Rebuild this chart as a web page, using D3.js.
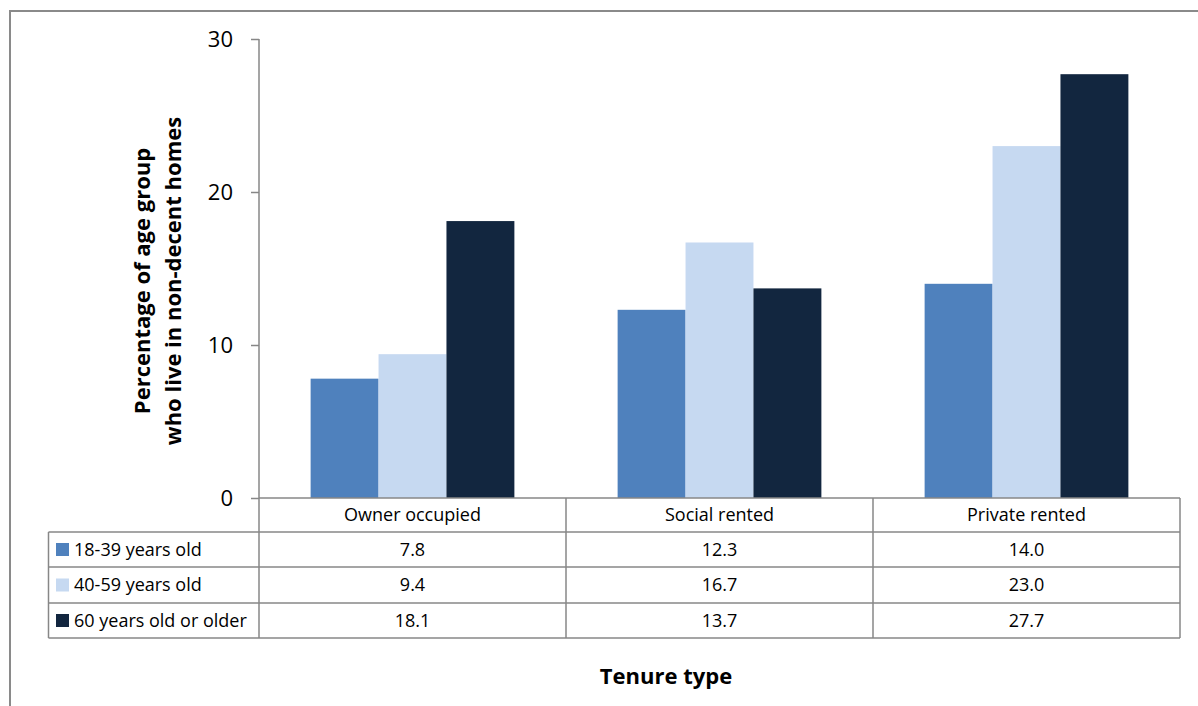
<!DOCTYPE html>
<html>
<head>
<meta charset="utf-8">
<script src="https://cdn.jsdelivr.net/npm/d3@7"></script>
<style>
  html, body { margin: 0; padding: 0; background: #fff; }
  svg { display: block; font-family: "Open Sans", Lato, sans-serif; }
</style>
</head>
<body>
<svg id="chart" width="1198" height="706"></svg>
<script>
// ---- data ----
const categories = ["Owner occupied", "Social rented", "Private rented"];
const seriesNames = ["18-39 years old", "40-59 years old", "60 years old or older"];
const values1839 = [7.8, 12.3, 14.0];
const values4059 = [9.4, 16.7, 23.0];
const values60plus = [18.1, 13.7, 27.7];
const yTicks = [0, 10, 20, 30];
const colors = ["#4F81BD", "#C6D9F1", "#12263F"];
const yTitleLines = ["Percentage of age group", "who live in non-decent homes"];
const xTitle = "Tenure type";

const seriesValues = [values1839, values4059, values60plus];

// ---- layout ----
const svg = d3.select("#chart");
const plotLeft = 259, plotRight = 1180, plotTop = 39, plotBottom = 498;
const tableLeft = 48.5;
const rowEdges = [498, 532, 567, 603, 638];
const gridColor = "#878787";
const fontMain = "'Open Sans', Lato, sans-serif";

// outer frame (extends beyond picture right/bottom)
svg.append("path")
  .attr("d", `M10,1000 L10,11 L1300,11`)
  .attr("fill", "none").attr("stroke", "#8a8a8a").attr("stroke-width", 2);

const x0 = d3.scaleBand().domain(categories).range([plotLeft, plotRight]).paddingInner(0).paddingOuter(0);
const x1 = d3.scaleBand().domain(d3.range(3)).range([0, x0.bandwidth()]).paddingInner(0).paddingOuter(0.76);
const y = d3.scaleLinear().domain([0, 30]).range([plotBottom, plotTop]);

// bars
const groups = svg.append("g").selectAll("g").data(categories).join("g")
  .attr("transform", d => `translate(${x0(d)},0)`);
groups.selectAll("rect")
  .data((c, ci) => seriesValues.map((vals, si) => ({ si, v: vals[ci] })))
  .join("rect")
  .attr("x", d => x1(d.si))
  .attr("width", x1.bandwidth())
  .attr("y", d => y(d.v))
  .attr("height", d => y(0) - y(d.v))
  .attr("fill", d => colors[d.si]);

// y axis
const yAxis = d3.axisLeft(y).tickValues(yTicks).tickSize(8).tickPadding(18).tickFormat(d3.format("d"));
const ya = svg.append("g").attr("transform", `translate(${plotLeft},0)`).call(yAxis);
ya.select(".domain").attr("stroke", gridColor).attr("stroke-width", 1.5).attr("d", `M0,${plotTop}V${plotBottom}`);
ya.selectAll(".tick line").attr("stroke", gridColor).attr("stroke-width", 1.5);
ya.selectAll(".tick text").attr("font-size", 22).attr("fill", "#000")
  .attr("font-family", fontMain);

// y title
const yt = svg.append("text")
  .attr("transform", `translate(158,281) rotate(-90)`)
  .attr("text-anchor", "middle")
  .attr("font-weight", "bold").attr("font-size", 22).attr("fill", "#000");
yt.selectAll("tspan").data(yTitleLines).join("tspan")
  .attr("x", 0).attr("dy", (d, i) => i === 0 ? "-0.35em" : "1.4em")
  .text(d => d);

// data table
const tg = svg.append("g");
const colEdges = [plotLeft, ...categories.map(c => x0(c) + x0.bandwidth())];
rowEdges.forEach((ry, i) => {
  tg.append("line")
    .attr("x1", i === 0 ? plotLeft : tableLeft).attr("x2", plotRight)
    .attr("y1", ry).attr("y2", ry)
    .attr("stroke", gridColor).attr("stroke-width", 1.5);
});
tg.append("line").attr("x1", tableLeft).attr("x2", tableLeft)
  .attr("y1", rowEdges[1]).attr("y2", rowEdges[4]).attr("stroke", gridColor).attr("stroke-width", 1.5);
colEdges.forEach(cx => {
  tg.append("line").attr("x1", cx).attr("x2", cx)
    .attr("y1", rowEdges[0]).attr("y2", rowEdges[4]).attr("stroke", gridColor).attr("stroke-width", 1.5);
});
tg.selectAll("text.cat").data(categories).join("text").attr("class", "cat")
  .attr("x", d => x0(d) + x0.bandwidth() / 2)
  .attr("y", (rowEdges[0] + rowEdges[1]) / 2)
  .attr("dy", "0.35em").attr("text-anchor", "middle")
  .attr("font-size", 18).attr("fill", "#000").text(d => d);
seriesNames.forEach((name, si) => {
  const cy = (rowEdges[si + 1] + rowEdges[si + 2]) / 2;
  tg.append("rect").attr("x", 56).attr("y", cy - 6.5).attr("width", 13).attr("height", 13).attr("fill", colors[si]);
  tg.append("text").attr("x", 74).attr("y", cy).attr("dy", "0.35em")
    .attr("font-size", 18).attr("fill", "#000").text(name);
  categories.forEach((c, ci) => {
    tg.append("text").attr("x", x0(c) + x0.bandwidth() / 2).attr("y", cy).attr("dy", "0.35em")
      .attr("text-anchor", "middle").attr("font-size", 18).attr("fill", "#000")
      .text(seriesValues[si][ci].toFixed(1));
  });
});

// x title
svg.append("text").attr("x", 666).attr("y", 676).attr("dy", "0.35em")
  .attr("text-anchor", "middle").attr("font-weight", "bold").attr("font-size", 22)
  .attr("fill", "#000").text(xTitle);
</script>
</body>
</html>
